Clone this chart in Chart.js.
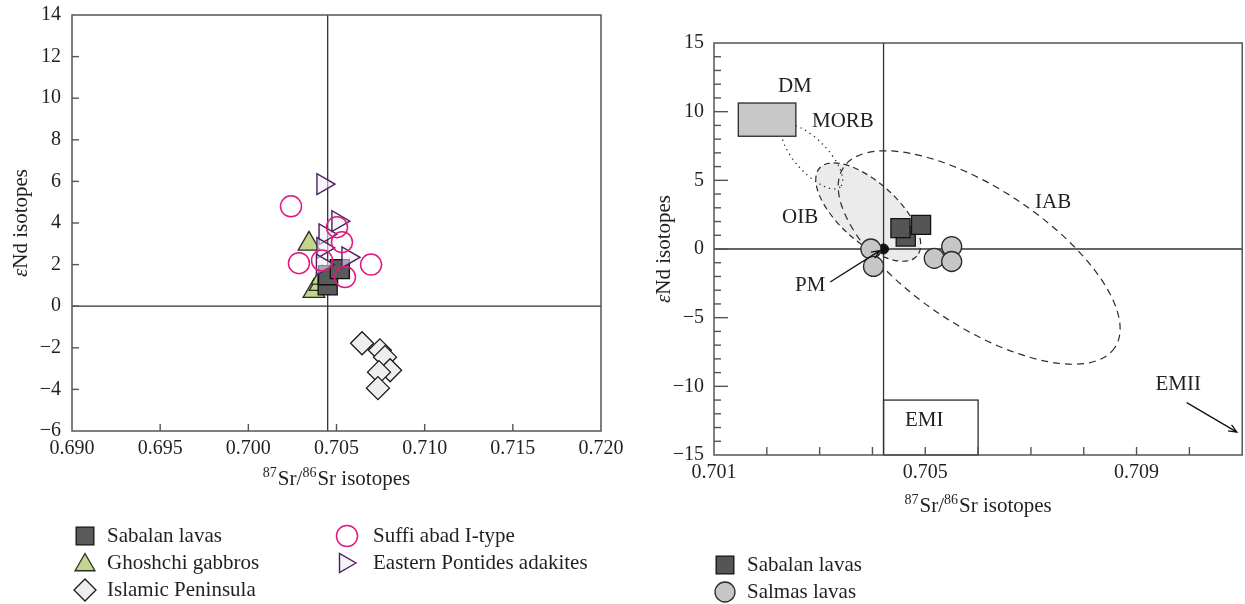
<!DOCTYPE html>
<html><head><meta charset="utf-8">
<script src="https://cdn.jsdelivr.net/npm/chart.js@4.4.0/dist/chart.umd.min.js"></script>
<style>
html,body{margin:0;padding:0;background:#fff;width:1245px;height:604px;overflow:hidden}
canvas{position:absolute;top:0}
#l{left:0}
#r{left:620px}
</style></head><body>
<canvas id="l" width="640" height="604"></canvas>
<canvas id="r" width="637" height="604"></canvas>
<script>
// ===== Left chart data (87Sr/86Sr vs eNd) =====
const sabalanSrL  = [0.70450, 0.70452, 0.70519];
const sabalanNdL  = [1.00, 1.49, 1.78];
const ghoshchiSr  = [0.70344, 0.70372, 0.70407, 0.70418];
const ghoshchiNd  = [3.00, 0.72, 1.06, 1.36];
const islamicSr   = [0.70645, 0.70746, 0.70775, 0.70804, 0.70741, 0.70735];
const islamicNd   = [-1.78, -2.12, -2.45, -3.08, -3.17, -3.94];
const suffiSr     = [0.70242, 0.70503, 0.70531, 0.70287, 0.70418, 0.70696, 0.70548];
const suffiNd     = [4.80, 3.80, 3.08, 2.07, 2.20, 2.00, 1.40];
const pontidesSr  = [0.70423, 0.70508, 0.70435, 0.70423, 0.70565, 0.70420];
const pontidesNd  = [5.87, 4.09, 3.46, 2.80, 2.35, 2.00];
const leftSrTicks = [0.690, 0.695, 0.700, 0.705, 0.710, 0.715, 0.720];
const leftNdTicks = [-6, -4, -2, 0, 2, 4, 6, 8, 10, 12, 14];
const leftSrRef   = 0.7045;
const leftNdRef   = 0;

// ===== Right chart data =====
const sabalanSrR  = [0.70463, 0.70453, 0.70492];
const sabalanNdR  = [0.91, 1.52, 1.76];
const salmasSr    = [0.70397, 0.70402, 0.70517, 0.70550, 0.70550];
const salmasNd    = [0.00, -1.27, -0.68, 0.18, -0.91];
const pmSr        = [0.70421];
const pmNd        = [0.00];
const rightSrTicks  = [0.701, 0.702, 0.703, 0.704, 0.705, 0.706, 0.707, 0.708, 0.709, 0.710, 0.711];
const rightSrLabels = [0.701, 0.705, 0.709];
const rightNdTicks  = [-15, -10, -5, 0, 5, 10, 15];
const rightNdMinor  = [-14,-13,-12,-11,-9,-8,-7,-6,-4,-3,-2,-1,1,2,3,4,6,7,8,9,11,12,13,14];
const rightSrRef    = 0.70421;
const rightNdRef    = 0;
// reservoir fields: [centerSr, centerNd, majorEndSr, majorEndNd, minor/major ratio]
const oibField  = [0.70392, 2.69, 0.70484, -0.52, 0.45];
const iabField  = [0.70602, -0.62, 0.70859, -7.17, 0.423];
const morbField = [0.70286, 6.70, 0.70339, 4.52, 0.40];
// boxes: [srMin, srMax, ndMin, ndMax]
const dmBox  = [0.70146, 0.70255, 8.21, 10.63];
const emiBox = [0.70421, 0.70600, -15, -11.0];
// labels: [text, sr, nd]
const fieldLabels = [
  ['DM', 0.70253, 11.8], ['MORB', 0.70344, 9.32], ['OIB', 0.70263, 2.33],
  ['IAB', 0.70742, 3.42], ['PM', 0.70282, -2.69], ['EMI', 0.70498, -12.5], ['EMII', 0.70979, -9.9]
];
const pmArrow   = [0.70320, -2.40, 0.70414, -0.12];
const emiiArrow = [0.70995, -11.19, 0.71090, -13.33];

const FONT = "'Liberation Serif', 'DejaVu Serif', serif";
const INK = '#231f20';
Chart.defaults.font.family = FONT;
Chart.defaults.color = INK;

function pts(xs, ys) { return xs.map((v, i) => ({x: v, y: ys[i]})); }
function minus(v) { return v < 0 ? '\u2212' + Math.abs(v) : String(v); }
const zeroPad = () => ({left: 0, top: 0, right: 0, bottom: 0});

function marker(ctx, style, cx, cy, r, fill, stroke, lw) {
  ctx.beginPath();
  if (style === 'rect') { const s = r * Math.SQRT1_2; ctx.rect(cx - s, cy - s, 2 * s, 2 * s); }
  else if (style === 'circle') { ctx.arc(cx, cy, r, 0, Math.PI * 2); }
  else if (style === 'rectRot') { ctx.moveTo(cx - r, cy); ctx.lineTo(cx, cy - r); ctx.lineTo(cx + r, cy); ctx.lineTo(cx, cy + r); }
  else if (style === 'triangle' || style === 'triRight') {
    let a = style === 'triangle' ? 0 : Math.PI / 2;
    for (let k = 0; k < 3; k++) {
      const px = cx + Math.sin(a) * r, py = cy - Math.cos(a) * r;
      k ? ctx.lineTo(px, py) : ctx.moveTo(px, py);
      a += 2 * Math.PI / 3;
    }
  }
  ctx.closePath();
  if (fill) { ctx.fillStyle = fill; ctx.fill(); }
  ctx.strokeStyle = stroke; ctx.lineWidth = lw; ctx.stroke();
}

function frameAndTicks(chart, xt, yt) {
  const {ctx, chartArea: a, scales: {x, y}} = chart;
  ctx.save();
  ctx.strokeStyle = '#555'; ctx.lineWidth = 1.4;
  xt.forEach(([v, len]) => { const p = x.getPixelForValue(v); ctx.beginPath(); ctx.moveTo(p, a.bottom); ctx.lineTo(p, a.bottom - len); ctx.stroke(); });
  yt.forEach(([v, len]) => { const p = y.getPixelForValue(v); ctx.beginPath(); ctx.moveTo(a.left, p); ctx.lineTo(a.left + len, p); ctx.stroke(); });
  ctx.lineWidth = 1.5;
  ctx.strokeRect(a.left, a.top, a.right - a.left, a.bottom - a.top);
  ctx.restore();
}
function crossLines(chart, sr, nd) {
  const {ctx, chartArea: a, scales: {x, y}} = chart;
  ctx.save(); ctx.strokeStyle = '#333'; ctx.lineWidth = 1.3;
  const px = x.getPixelForValue(sr), py = y.getPixelForValue(nd);
  ctx.beginPath(); ctx.moveTo(px, a.top); ctx.lineTo(px, a.bottom); ctx.moveTo(a.left, py); ctx.lineTo(a.right, py); ctx.stroke();
  ctx.restore();
}
function srTitle(chart, cy) {
  const {ctx, chartArea: a} = chart;
  const parts = [['87', true], ['Sr/', false], ['86', true], ['Sr isotopes', false]];
  ctx.save(); ctx.fillStyle = INK; ctx.textBaseline = 'alphabetic'; ctx.textAlign = 'left';
  const big = '21px ' + FONT, small = '14px ' + FONT;
  let w = 0;
  parts.forEach(([t, s]) => { ctx.font = s ? small : big; w += ctx.measureText(t).width + (s ? 1 : 0); });
  let xx = (a.left + a.right) / 2 - w / 2;
  const base = cy + 7;
  parts.forEach(([t, s]) => {
    ctx.font = s ? small : big;
    ctx.fillText(t, xx, s ? base - 8 : base);
    xx += ctx.measureText(t).width + (s ? 1 : 0);
  });
  ctx.restore();
}
function ndTitle(chart, cx) {
  const {ctx, chartArea: a} = chart;
  const parts = [['\u03b5', 'italic 21px ' + FONT], ['Nd isotopes', '21px ' + FONT]];
  ctx.save(); ctx.fillStyle = INK; ctx.textBaseline = 'middle'; ctx.textAlign = 'left';
  ctx.translate(cx, (a.top + a.bottom) / 2); ctx.rotate(-Math.PI / 2);
  let w = 0;
  parts.forEach(([t, f]) => { ctx.font = f; w += ctx.measureText(t).width; });
  let xx = -w / 2;
  parts.forEach(([t, f]) => { ctx.font = f; ctx.fillText(t, xx, 0); xx += ctx.measureText(t).width; });
  ctx.restore();
}
function legend(ctx, items) {
  ctx.save();
  items.forEach(it => {
    marker(ctx, it.style, it.x, it.y + (it.dy || 0), it.r, it.fill, it.stroke, it.lw);
    ctx.font = '21px ' + FONT; ctx.fillStyle = INK; ctx.textBaseline = 'middle'; ctx.textAlign = 'left';
    ctx.fillText(it.text, it.tx, it.y);
  });
  ctx.restore();
}
function ellipsePath(ctx, x, y, e) {
  const cx = x.getPixelForValue(e[0]), cy = y.getPixelForValue(e[1]);
  const ex = x.getPixelForValue(e[2]), ey = y.getPixelForValue(e[3]);
  const a = Math.hypot(ex - cx, ey - cy), ang = Math.atan2(ey - cy, ex - cx);
  ctx.beginPath(); ctx.ellipse(cx, cy, a, a * e[4], ang, 0, Math.PI * 2);
}
function arrow(ctx, x, y, ar) {
  const x1 = x.getPixelForValue(ar[0]), y1 = y.getPixelForValue(ar[1]);
  const x2 = x.getPixelForValue(ar[2]), y2 = y.getPixelForValue(ar[3]);
  const ang = Math.atan2(y2 - y1, x2 - x1), h = 9;
  ctx.beginPath(); ctx.moveTo(x1, y1); ctx.lineTo(x2, y2);
  ctx.moveTo(x2 - h * Math.cos(ang - 0.4), y2 - h * Math.sin(ang - 0.4));
  ctx.lineTo(x2, y2);
  ctx.lineTo(x2 - h * Math.cos(ang + 0.4), y2 - h * Math.sin(ang + 0.4));
  ctx.stroke();
}

const tickFont = {size: 20, family: FONT};
const titleFont = {size: 21, family: FONT};
const HIDDEN = 'rgba(0,0,0,0)';
const base = {
  responsive: false, animation: false, events: [],
  plugins: {legend: {display: false}, tooltip: {enabled: false}}
};

// ===== Left chart =====
new Chart(document.getElementById('l'), {
  type: 'scatter',
  data: {datasets: [
    {data: pts(suffiSr, suffiNd), pointStyle: 'circle', pointRadius: 10.5, backgroundColor: 'rgba(0,0,0,0)', borderColor: '#e0197f', borderWidth: 1.5},
    {data: pts(pontidesSr, pontidesNd), pointStyle: 'triangle', rotation: 90, pointRadius: 12, backgroundColor: 'rgba(243,236,246,0.55)', borderColor: '#4a1f5c', borderWidth: 1.4},
    {data: pts(sabalanSrL, sabalanNdL), pointStyle: 'rect', pointRadius: 13.5, backgroundColor: '#5a5a5a', borderColor: '#111', borderWidth: 1.3},
    {data: pts(ghoshchiSr, ghoshchiNd), pointStyle: 'triangle', pointRadius: 12.5, backgroundColor: '#c3d68b', borderColor: '#2a2a2a', borderWidth: 1.3},
    {data: pts(islamicSr, islamicNd), pointStyle: 'rectRot', pointRadius: 11.5, backgroundColor: '#eeeeee', borderColor: '#1a1a1a', borderWidth: 1.3}
  ]},
  options: Object.assign({}, base, {
    layout: {padding: {left: 0, right: 39, top: 15, bottom: 113}},
    scales: {
      x: {type: 'linear', min: 0.690, max: 0.720,
        afterBuildTicks: s => { s.ticks = leftSrTicks.map(v => ({value: v})); },
        afterFit: s => { s.height = 60; s.paddingLeft = 0; s.paddingRight = 0; s.getPadding = zeroPad; },
        grid: {display: false, drawTicks: false}, border: {display: false},
        ticks: {autoSkip: false, maxRotation: 0, padding: 6, font: tickFont, color: INK, callback: v => Number(v).toFixed(3)},
        title: {display: false}},
      y: {type: 'linear', min: -6, max: 14,
        afterBuildTicks: s => { s.ticks = leftNdTicks.map(v => ({value: v})); },
        afterFit: s => { s.width = 72; s.paddingTop = 0; s.paddingBottom = 0; s.getPadding = zeroPad; },
        grid: {display: false, drawTicks: false}, border: {display: false},
        ticks: {padding: 11, font: tickFont, color: INK, callback: v => minus(v)},
        title: {display: true, text: '\u03b5Nd isotopes', font: titleFont, color: HIDDEN, padding: {top: 9, bottom: 0}}}
    }
  }),
  plugins: [{
    id: 'leftDeco',
    beforeDatasetsDraw(chart) { crossLines(chart, leftSrRef, leftNdRef); },
    afterDatasetsDraw(chart) {
      frameAndTicks(chart,
        leftSrTicks.slice(1, -1).map(v => [v, 7]),
        leftNdTicks.slice(1, -1).map(v => [v, 7]));
    },
    afterDraw(chart) {
      srTitle(chart, 478);
      ndTitle(chart, 21.6);
      legend(chart.ctx, [
        {style: 'rect', x: 85, y: 536, r: 12.5, fill: '#5a5a5a', stroke: '#111', lw: 1.3, text: 'Sabalan lavas', tx: 107},
        {style: 'triangle', x: 85, y: 563, dy: 2, r: 11.5, fill: '#c3d68b', stroke: '#2a2a2a', lw: 1.3, text: 'Ghoshchi gabbros', tx: 107},
        {style: 'rectRot', x: 85, y: 590, r: 11, fill: '#eeeeee', stroke: '#1a1a1a', lw: 1.3, text: 'Islamic Peninsula', tx: 107},
        {style: 'circle', x: 347, y: 536, r: 10.5, fill: null, stroke: '#e0197f', lw: 1.5, text: 'Suffi abad I-type', tx: 373},
        {style: 'triRight', x: 345, y: 563, r: 11, fill: '#f6f1f8', stroke: '#4a1f5c', lw: 1.4, text: 'Eastern Pontides adakites', tx: 373}
      ]);
    }
  }]
});

// ===== Right chart =====
new Chart(document.getElementById('r'), {
  type: 'scatter',
  data: {datasets: [
    {data: pts(salmasSr, salmasNd), pointStyle: 'circle', pointRadius: 10, backgroundColor: '#c6c6c6', borderColor: '#2b2b2b', borderWidth: 1.3},
    {data: pts(pmSr, pmNd), pointStyle: 'circle', pointRadius: 5, backgroundColor: '#111', borderColor: '#111', borderWidth: 1},
    {data: pts(sabalanSrR, sabalanNdR), pointStyle: 'rect', pointRadius: 13.5, backgroundColor: '#555555', borderColor: '#111', borderWidth: 1.3}
  ]},
  options: Object.assign({}, base, {
    layout: {padding: {left: 0, right: 3, top: 43, bottom: 89}},
    scales: {
      x: {type: 'linear', min: 0.701, max: 0.711,
        afterBuildTicks: s => { s.ticks = rightSrTicks.map(v => ({value: v})); },
        afterFit: s => { s.height = 60; s.paddingLeft = 0; s.paddingRight = 0; s.getPadding = zeroPad; },
        grid: {display: false, drawTicks: false}, border: {display: false},
        ticks: {autoSkip: false, maxRotation: 0, padding: 6, font: tickFont, color: INK,
          callback: v => rightSrLabels.some(l => Math.abs(l - v) < 1e-7) ? Number(v).toFixed(3) : ''},
        title: {display: false}},
      y: {type: 'linear', min: -15, max: 15,
        afterBuildTicks: s => { s.ticks = rightNdTicks.map(v => ({value: v})); },
        afterFit: s => { s.width = 94; s.paddingTop = 0; s.paddingBottom = 0; s.getPadding = zeroPad; },
        grid: {display: false, drawTicks: false}, border: {display: false},
        ticks: {padding: 10, font: tickFont, color: INK, callback: v => minus(v)},
        title: {display: true, text: '\u03b5Nd isotopes', font: titleFont, color: HIDDEN, padding: {top: 32, bottom: 0}}}
    }
  }),
  plugins: [{
    id: 'rightDeco',
    beforeDatasetsDraw(chart) {
      const {ctx, scales: {x, y}} = chart;
      ctx.save();
      ellipsePath(ctx, x, y, oibField);
      ctx.fillStyle = '#ebebeb'; ctx.fill();
      ctx.strokeStyle = '#2b2b2b'; ctx.lineWidth = 1.2; ctx.setLineDash([6, 4]); ctx.stroke();
      ellipsePath(ctx, x, y, iabField);
      ctx.setLineDash([7, 5]); ctx.stroke();
      ellipsePath(ctx, x, y, morbField);
      ctx.setLineDash([1.3, 4]); ctx.lineWidth = 1.3; ctx.stroke();
      ctx.setLineDash([]);
      const bx = (b) => [x.getPixelForValue(b[0]), y.getPixelForValue(b[3]), x.getPixelForValue(b[1]) - x.getPixelForValue(b[0]), y.getPixelForValue(b[2]) - y.getPixelForValue(b[3])];
      const d = bx(dmBox);
      ctx.fillStyle = '#c8c8c8'; ctx.fillRect(...d);
      ctx.strokeStyle = '#2b2b2b'; ctx.lineWidth = 1.3; ctx.strokeRect(...d);
      ctx.strokeRect(...bx(emiBox));
      ctx.restore();
      crossLines(chart, rightSrRef, rightNdRef);
    },
    afterDatasetsDraw(chart) {
      const {ctx, scales: {x, y}} = chart;
      ctx.save();
      ctx.strokeStyle = '#111'; ctx.lineWidth = 1.3;
      arrow(ctx, x, y, pmArrow);
      arrow(ctx, x, y, emiiArrow);
      ctx.font = '21px ' + FONT; ctx.fillStyle = INK; ctx.textAlign = 'center'; ctx.textBaseline = 'middle';
      fieldLabels.forEach(([t, sr, nd]) => ctx.fillText(t, x.getPixelForValue(sr), y.getPixelForValue(nd)));
      ctx.restore();
      frameAndTicks(chart,
        rightSrTicks.slice(1, -1).map(v => [v, 8]),
        rightNdTicks.slice(1, -1).map(v => [v, 14]).concat(rightNdMinor.map(v => [v, 7])));
    },
    afterDraw(chart) {
      srTitle(chart, 505);
      ndTitle(chart, 44.6);
      legend(chart.ctx, [
        {style: 'rect', x: 105, y: 565, r: 12.5, fill: '#555555', stroke: '#111', lw: 1.3, text: 'Sabalan lavas', tx: 127},
        {style: 'circle', x: 105, y: 592, r: 10, fill: '#c6c6c6', stroke: '#2b2b2b', lw: 1.3, text: 'Salmas lavas', tx: 127}
      ]);
    }
  }]
});
</script>
</body></html>
